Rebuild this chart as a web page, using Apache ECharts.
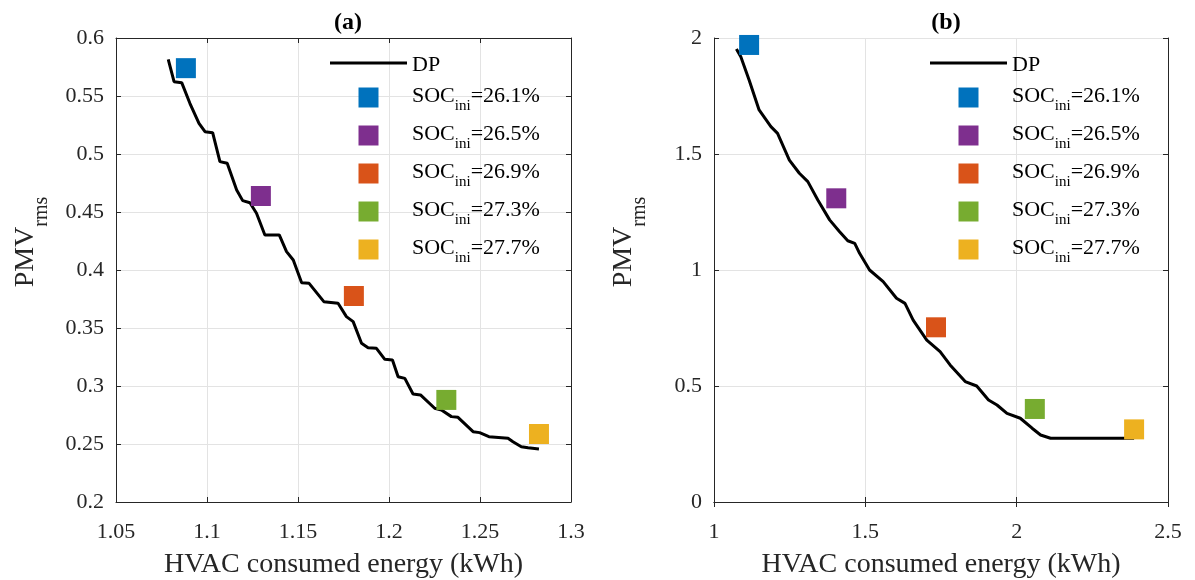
<!DOCTYPE html>
<html>
<head>
<meta charset="utf-8">
<script src="https://cdn.jsdelivr.net/npm/echarts@6/dist/echarts.min.js"></script>
<style>html,body{margin:0;padding:0;background:#fff}#c{width:1195px;height:580px}</style>
</head>
<body>
<div id="c"></div>
<script>
// ---- data ----
const socNames = ['SOC_ini=26.1%', 'SOC_ini=26.5%', 'SOC_ini=26.9%', 'SOC_ini=27.3%', 'SOC_ini=27.7%'];
const socColors = ['#0072BD', '#7E2F8E', '#D95319', '#77AC30', '#EDB120'];

// panel (a)
const dpAx = [1.0787,1.0819,1.0861,1.0906,1.0956,1.0989,1.1031,1.1071,1.1111,1.1163,1.1196,1.1236,1.1272,1.1318,1.1397,1.1437,1.1474,1.152,1.1561,1.1642,1.172,1.1766,1.1803,1.1849,1.1885,1.1931,1.1977,1.2019,1.205,1.2087,1.2132,1.2173,1.2251,1.2288,1.2343,1.2379,1.2462,1.2498,1.2549,1.2654,1.2681,1.2727,1.2764,1.2824];
const dpAy = [0.5816,0.5623,0.5615,0.5437,0.5265,0.5192,0.5184,0.4934,0.492,0.469,0.4598,0.458,0.4489,0.4302,0.4302,0.4158,0.4086,0.389,0.3885,0.3727,0.3713,0.3598,0.3555,0.3368,0.333,0.3325,0.323,0.3224,0.308,0.3066,0.2931,0.2923,0.2808,0.2793,0.2736,0.273,0.2606,0.2598,0.2563,0.2549,0.252,0.2477,0.2468,0.2457];
const socAx = [1.0884, 1.1296, 1.1807, 1.2315, 1.2824];
const socAy = [0.574, 0.4638, 0.3776, 0.288, 0.2586];

// panel (b)
const dpBx = [1.074,1.0886,1.116,1.149,1.188,1.21,1.249,1.282,1.31,1.343,1.382,1.415,1.442,1.465,1.481,1.514,1.559,1.603,1.631,1.658,1.703,1.747,1.78,1.83,1.868,1.907,1.935,1.968,2.012,2.051,2.079,2.112,2.388];
const dpBy = [1.9526,1.919,1.819,1.69,1.618,1.589,1.474,1.417,1.381,1.302,1.216,1.165,1.126,1.115,1.072,1.0,0.95,0.878,0.856,0.784,0.698,0.648,0.591,0.519,0.5,0.44,0.418,0.382,0.361,0.318,0.289,0.275,0.275];
const socBx = [1.116, 1.404, 1.7335, 2.06, 2.388];
const socBy = [1.97, 1.309, 0.753, 0.401, 0.313];

const axA = {xmin: 1.05, xmax: 1.3, xint: 0.05, ymin: 0.2, ymax: 0.6, yint: 0.05};
const axB = {xmin: 1, xmax: 2.5, xint: 0.5, ymin: 0, ymax: 2, yint: 0.5};
const titles = ['(a)', '(b)'];
const xName = 'HVAC consumed energy (kWh)';

// ---- chart ----
const FONT = 'Liberation Serif';
const INK = '#262626';
const GRIDC = '#e3e3e3';
const fmt = v => String(+v.toFixed(2));

function xAxes(ax, gi) {
  const base = {
    type: 'value', gridIndex: gi, min: ax.xmin, max: ax.xmax, interval: ax.xint,
    axisLine: {show: true, lineStyle: {color: INK, width: 1}},
    axisTick: {show: true, inside: true, length: 5, lineStyle: {color: INK}},
    splitLine: {show: false}
  };
  return [
    Object.assign({}, base, {
      position: 'bottom',
      splitLine: {show: true, lineStyle: {color: GRIDC, width: 1}},
      axisLabel: {show: true, color: INK, fontFamily: FONT, fontSize: 22, margin: 19, formatter: fmt},
      name: xName, nameLocation: 'middle', nameGap: 49,
      nameTextStyle: {color: INK, fontFamily: FONT, fontSize: 28}
    }),
    Object.assign({}, base, {position: 'top', axisLabel: {show: false}})
  ];
}
function yAxes(ax, gi) {
  const base = {
    type: 'value', gridIndex: gi, min: ax.ymin, max: ax.ymax, interval: ax.yint,
    axisLine: {show: true, lineStyle: {color: INK, width: 1}},
    axisTick: {show: true, inside: true, length: 5, lineStyle: {color: INK}},
    splitLine: {show: false}
  };
  return [
    Object.assign({}, base, {
      position: 'left',
      splitLine: {show: true, lineStyle: {color: GRIDC, width: 1}},
      axisLabel: {show: true, color: INK, fontFamily: FONT, fontSize: 22, margin: 12, formatter: fmt},
      name: '{a|PMV}{b|rms}', nameLocation: 'middle', nameGap: 64, nameRotate: 90,
      nameTextStyle: {
        color: INK, fontFamily: FONT, padding: [0, 0, 0, 56],
        rich: {
          a: {fontFamily: FONT, fontSize: 28, color: INK, verticalAlign: 'top'},
          b: {fontFamily: FONT, fontSize: 20, color: INK, verticalAlign: 'bottom', padding: [20, 0, 0, 0]}
        }
      }
    }),
    Object.assign({}, base, {position: 'right', axisLabel: {show: false}})
  ];
}

function pairs(xs, ys) { return xs.map((x, i) => [x, ys[i]]); }

function seriesFor(gi, dpx, dpy, sx, sy) {
  const s = [{
    name: 'DP', type: 'line', xAxisIndex: gi * 2, yAxisIndex: gi * 2,
    data: pairs(dpx, dpy), showSymbol: false, symbol: 'none',
    lineStyle: {color: '#000', width: 3}, itemStyle: {color: '#000'},
    z: 3, silent: true, animation: false
  }];
  socNames.forEach((n, i) => {
    s.push({
      name: n, type: 'scatter', xAxisIndex: gi * 2, yAxisIndex: gi * 2,
      data: [[sx[i], sy[i]]], symbol: 'rect', symbolSize: 20, clip: false, symbolKeepAspect: true,
      itemStyle: {color: socColors[i], opacity: 1}, z: 4, silent: true, animation: false
    });
  });
  return s;
}

const LINE_ICON = 'path://M0,0L77,0L77,3L0,3Z';
const SQ_ICON = 'path://M0,0L20,0L20,20L0,20Z';

function legendFor(left) {
  return {
    left: left, top: 49, orient: 'vertical', itemWidth: 77, itemHeight: 20, itemGap: 9,
    selectedMode: false, symbolKeepAspect: true,
    data: [{name: 'DP', icon: LINE_ICON, itemStyle: {color: '#000'}}].concat(
      socNames.map((n, i) => ({name: n, icon: SQ_ICON, itemStyle: {color: socColors[i]}}))),
    formatter: function (name) {
      if (name === 'DP') return '{a|DP}';
      return '{a|SOC}{b|ini}{a|=' + name.split('=')[1] + '}';
    },
    textStyle: {
      color: '#000', fontFamily: FONT, fontSize: 22,
      rich: {
        a: {fontFamily: FONT, fontSize: 22, color: '#000', verticalAlign: 'top', padding: [4, 0, 0, 0]},
        b: {fontFamily: FONT, fontSize: 15, color: '#000', verticalAlign: 'bottom', padding: [18, 0, 0, 0]}
      }
    }
  };
}

const chart = echarts.init(document.getElementById('c'), null, {renderer: 'canvas'});
chart.setOption({
  backgroundColor: '#fff',
  animation: false,
  title: [
    {text: titles[0], left: 343, top: 6, textAlign: 'center', textStyle: {fontFamily: FONT, fontWeight: 'bold', fontSize: 24, color: '#000'}},
    {text: titles[1], left: 941, top: 6, textAlign: 'center', textStyle: {fontFamily: FONT, fontWeight: 'bold', fontSize: 24, color: '#000'}}
  ],
  grid: [
    {left: 116, right: 624, top: 38, bottom: 78, containLabel: false, outerBoundsMode: 'none'},
    {left: 714, right: 27, top: 38, bottom: 78, containLabel: false, outerBoundsMode: 'none'}
  ],
  xAxis: xAxes(axA, 0).concat(xAxes(axB, 1)),
  yAxis: yAxes(axA, 0).concat(yAxes(axB, 1)),
  legend: [legendFor(325), legendFor(925)],
  series: seriesFor(0, dpAx, dpAy, socAx, socAy).concat(seriesFor(1, dpBx, dpBy, socBx, socBy))
});
</script>
</body>
</html>
